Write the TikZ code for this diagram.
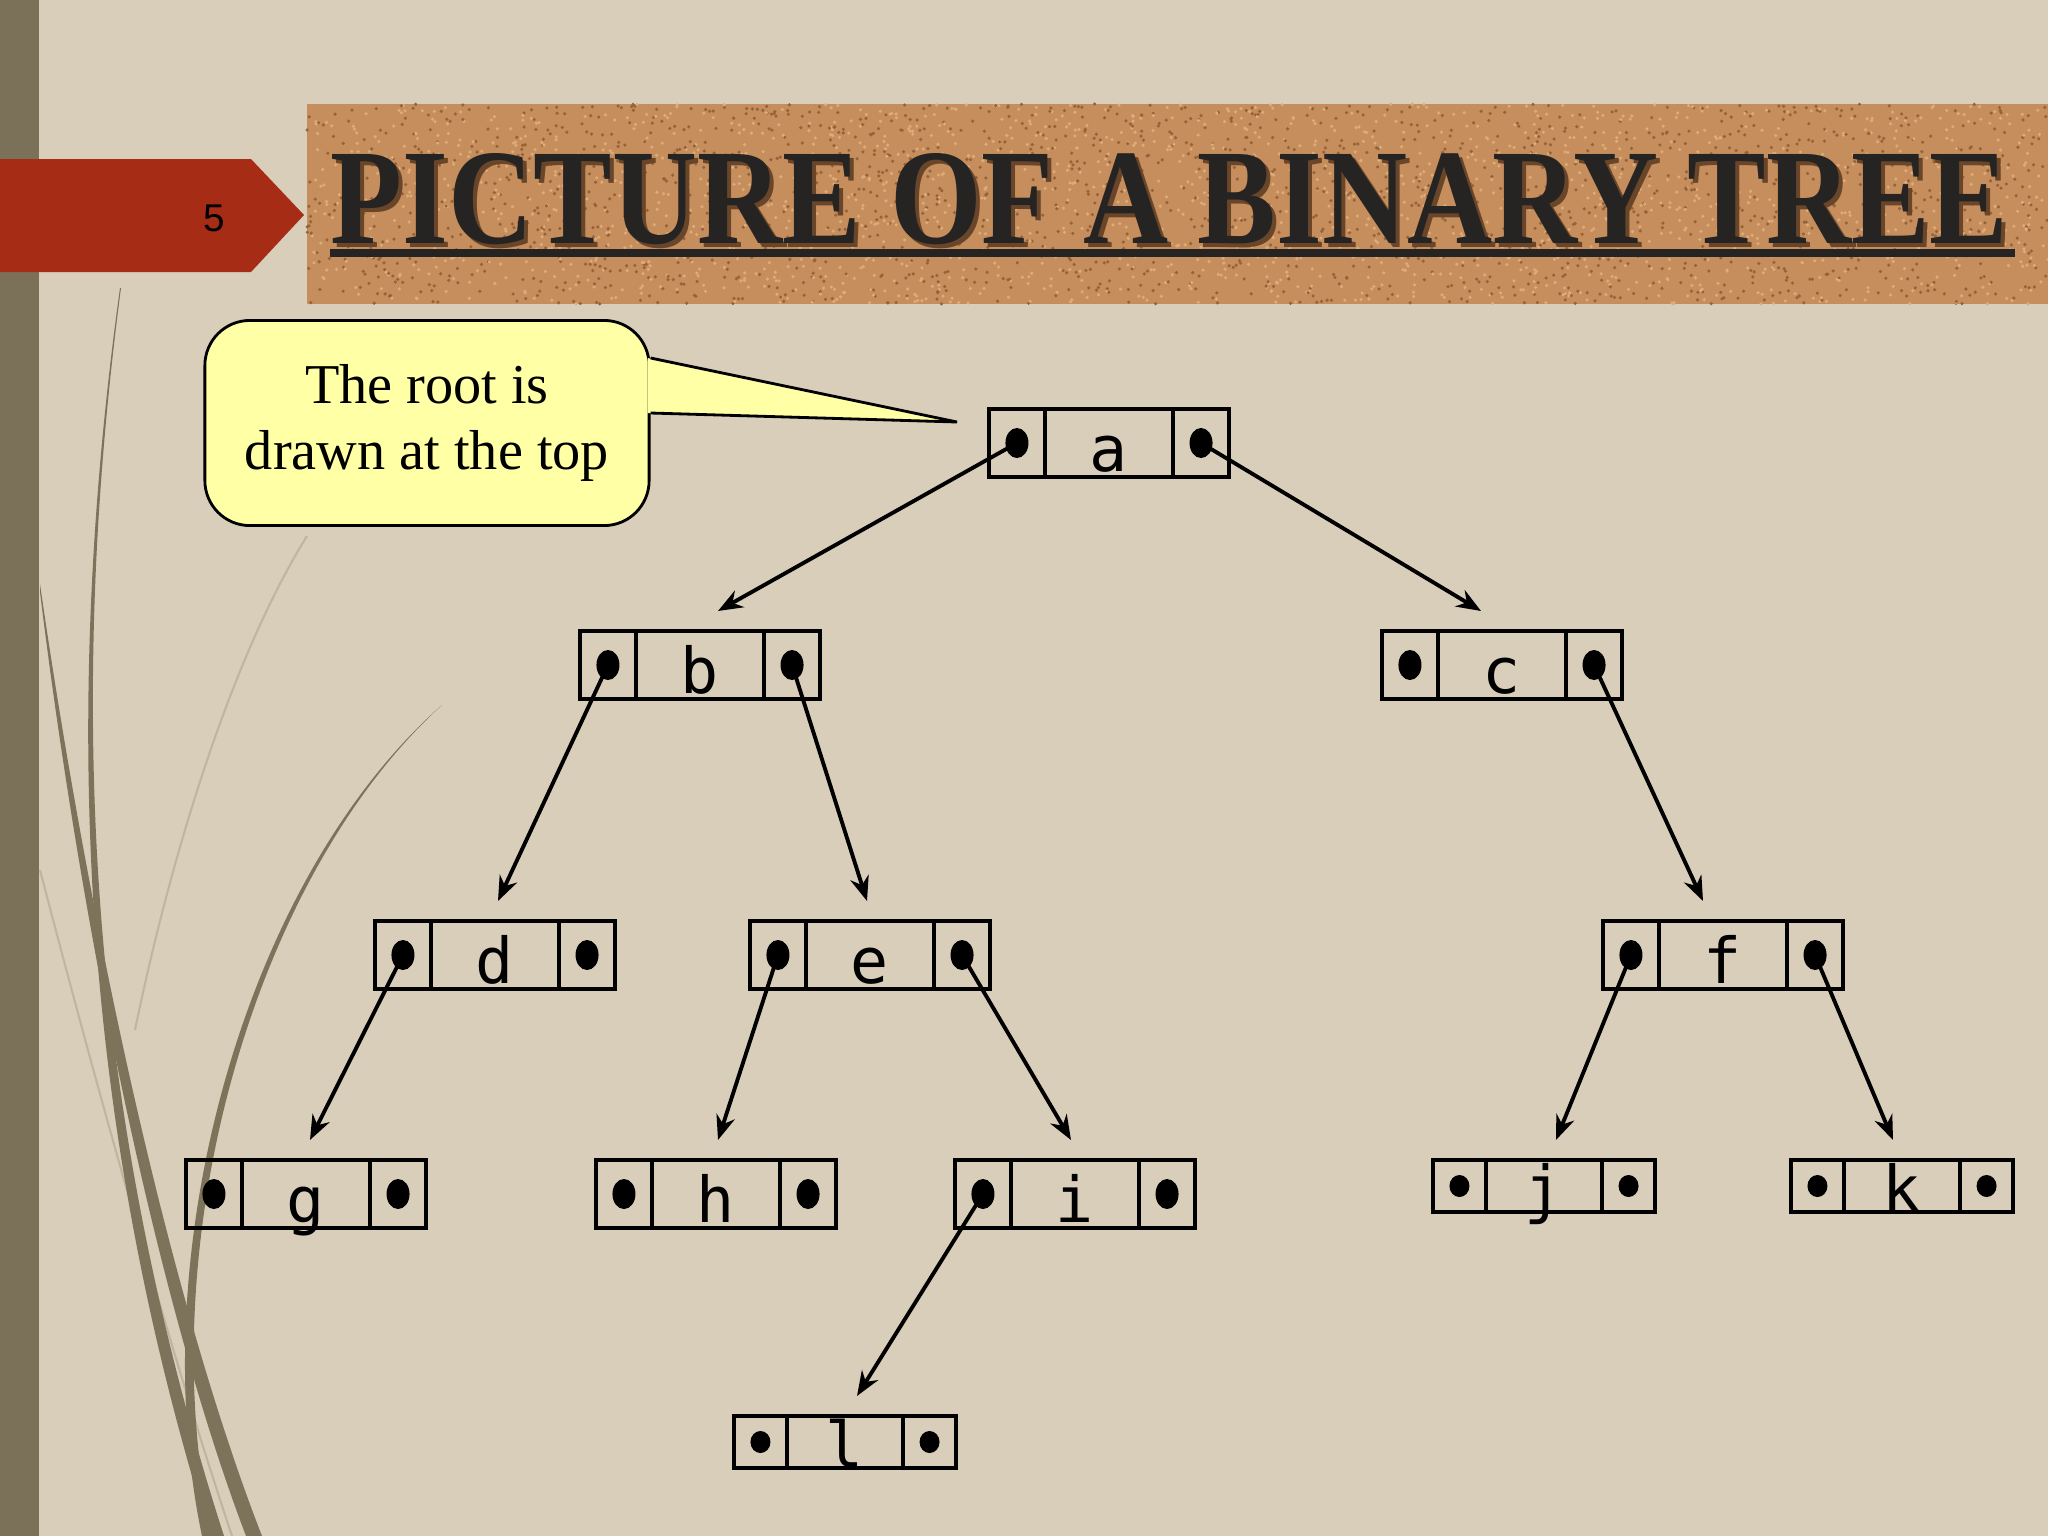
\documentclass[tikz,border=0pt]{standalone}
\usepackage{fontspec}
\setmainfont{Liberation Serif}
\newfontfamily\cellfont{DejaVu Sans Mono}
\newfontfamily\numfont{Liberation Sans}
\usepackage{xcolor}
\usepackage{tikz}
\usetikzlibrary{positioning}
\usetikzlibrary{arrows.meta,shapes}
\usetikzlibrary{calc}
\definecolor{linen}{RGB}{216,206,186}
\definecolor{barolive}{RGB}{122,113,88}
\definecolor{tabred}{RGB}{166,44,22}
\definecolor{cork}{RGB}{198,142,92}
\definecolor{corkdark}{RGB}{150,98,58}
\definecolor{corklight}{RGB}{222,172,120}
\definecolor{notefill}{RGB}{255,255,165}
\definecolor{inkgray}{RGB}{38,36,34}
\definecolor{stem}{RGB}{124,115,90}
\definecolor{stemlight}{RGB}{192,182,160}
\tikzset{cell/.style={rectangle,draw,line width=1.3pt,inner sep=0pt,outer sep=0pt,minimum height=0.68cm}}
\tikzset{ptrcell/.style={cell,minimum width=0.56cm}}
\tikzset{keycell/.style={cell,minimum width=1.28cm}}
\tikzset{sptrcell/.style={cell,minimum width=0.53cm,minimum height=0.52cm}}
\tikzset{skeycell/.style={cell,minimum width=1.16cm,minimum height=0.52cm}}
\tikzset{ptrdot/.style={ellipse,fill=black,inner sep=0pt,minimum width=0.23cm,minimum height=0.3cm}}
\tikzset{sptrdot/.style={ellipse,fill=black,inner sep=0pt,minimum width=0.2cm,minimum height=0.22cm}}
\tikzset{keytext/.style={font=\cellfont\fontsize{18}{18}\selectfont,inner sep=0pt,anchor=base}}
\tikzset{ptr/.style={-{Stealth[length=7pt,width=5.4pt]},line width=1.1pt}}
\tikzset{note/.style={rectangle,rounded corners=0.45cm,draw,fill=notefill,line width=0.8pt,minimum width=4.44cm,minimum height=2.05cm,align=center,font=\fontsize{16}{19}\selectfont}}

\begin{document}
\begin{tikzpicture}[x=0.01cm,y=-0.01cm]

	\useasboundingbox (0,0) rectangle (2048,1536);
	\fill[linen] (0,0) rectangle (2048,1536);
	\fill[barolive] (0,0) rectangle (39,1536);

	% title banner
	\fill[cork] (307,104) rectangle (2048,304);
	\pgfmathsetseed{7}
	\foreach \k in {1,...,1800} {
		\fill[corkdark] ({307+1741*rnd},{104+200*rnd}) circle (0.5pt);
		\fill[corklight] ({307+1741*rnd},{104+200*rnd}) circle (0.5pt);
	}
	\node[anchor=base west,inner sep=0pt,text=corkdark!70!black] (title-shadow) at (334,247)
		{\resizebox{16.77cm}{0.9cm}{\bfseries PICTURE OF A BINARY TREE}};
	\node[anchor=base west,inner sep=0pt,text=inkgray] (title) at (330,243)
		{\resizebox{16.77cm}{0.9cm}{\bfseries PICTURE OF A BINARY TREE}};
	\draw[line width=2.3pt,inkgray] ($(title.base west)+(0,10)$) -- ($(title.base east)+(6,10)$);

	\fill[tabred] (0,159) -- (251,159) -- (304,215) -- (251,272) -- (0,272) -- cycle;
	\node[font=\numfont\fontsize{11}{11}\selectfont] (slide-no) at (214,218) {5};

	% stems on the left
	\draw[stemlight,line width=0.6pt] (40,870) .. controls (100,1100) and (170,1350) .. (232,1536);
	\draw[stemlight,line width=0.6pt] (307,536) .. controls (230,660) and (170,860) .. (135,1030);
	\fill[stem] (121,288) .. controls (60,750) and (100,1150) .. (224,1536) -- (210,1536) .. controls (90,1152) and (56,750) .. (120,288) -- cycle;
	\fill[stem] (40,584) .. controls (90,930) and (170,1300) .. (262,1536) -- (246,1536) .. controls (158,1305) and (82,935) .. (40,592) -- cycle;
	\fill[stem] (442,705) .. controls (250,880) and (150,1250) .. (212,1536) -- (202,1536) .. controls (142,1250) and (245,878) .. (442,705) -- cycle;

	% tree
	\foreach \name/\x/\y in {a/1109/443, b/700/665, c/1502/665, d/495/955, e/870/955, f/1723/955, g/306/1194, h/716/1194, i/1075/1194} {
		\node[keycell] (\name) at (\x,\y) {};
		\node[ptrcell, left=0pt of \name] (\name-l) {};
		\node[ptrcell, right=0pt of \name] (\name-r) {};
		\node[ptrdot] (\name-ld) at (\name-l) {};
		\node[ptrdot] (\name-rd) at (\name-r) {};
		\node[keytext] (\name-t) at ($(\name.south)+(0,-6)$) {\name};
	}
	\foreach \name/\x/\y in {j/1544/1186, k/1902/1186, l/845/1442} {
		\node[skeycell] (\name) at (\x,\y) {};
		\node[sptrcell, left=0pt of \name] (\name-l) {};
		\node[sptrcell, right=0pt of \name] (\name-r) {};
		\node[sptrdot] (\name-ld) at (\name-l) {};
		\node[sptrdot] (\name-rd) at (\name-r) {};
		\node[keytext] (\name-t) at ($(\name.south)+(0,-1)$) {\name};
	}

	\foreach \src/\dst/\dx in {a-ld/b/18, a-rd/c/-21, b-ld/d/3, b-rd/e/-3, c-rd/f/-20, d-ld/g/4, e-ld/h/2, e-rd/i/-4, f-ld/j/12, f-rd/k/-9, i-ld/l/12}
		\draw[ptr] (\src.center) -- ($(\dst.north)+(\dx,-20)$);

	% callout
	\node[note] (root-note) at (427,423) {The root is\\drawn at the top};
	\coordinate (note-tip) at (957,422);
	\fill[notefill] ($(root-note.east)+(-3,-65)$) -- (note-tip) -- ($(root-note.east)+(-3,-10)$) -- cycle;
	\draw[line width=0.8pt] ($(root-note.east)+(0,-65)$) -- (note-tip) -- ($(root-note.east)+(0,-10)$);

\end{tikzpicture}
\end{document}
